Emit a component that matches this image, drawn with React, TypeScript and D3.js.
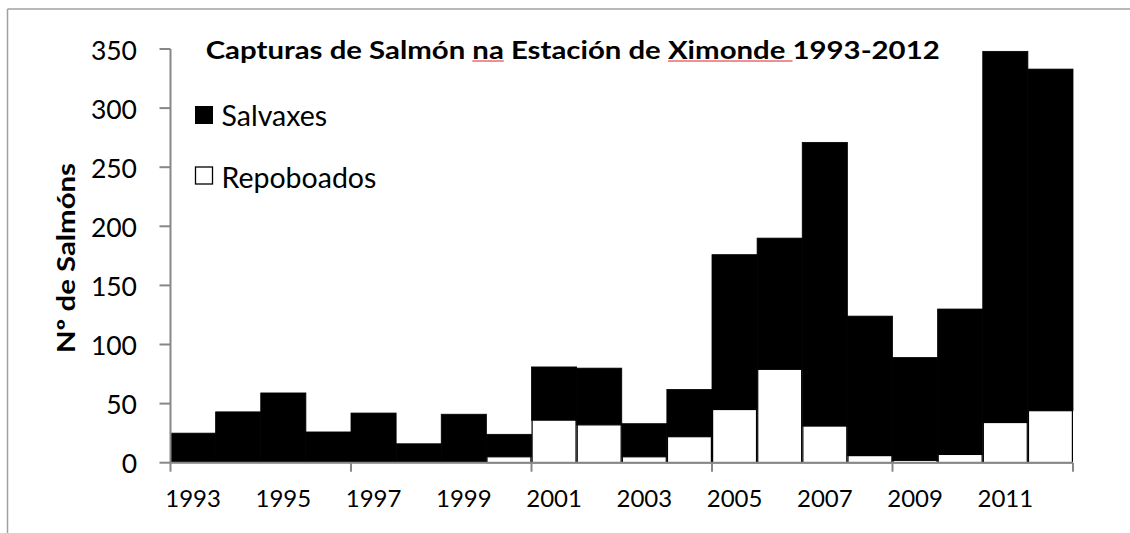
import React, { useEffect, useRef, useState } from "react";
import * as d3 from "d3";

// capturas anuais
const years = [
  "1993", "1994", "1995", "1996", "1997", "1998", "1999", "2000", "2001", "2002",
  "2003", "2004", "2005", "2006", "2007", "2008", "2009", "2010", "2011", "2012",
];
const repoboados = [0, 0, 0, 0, 0, 0, 0, 5, 36, 32, 5, 22, 45, 79, 31, 6, 2, 7, 34, 44];
const salvaxes = [25, 43, 59, 26, 42, 16, 41, 19, 45, 48, 28, 40, 131, 111, 240, 118, 87, 123, 314, 289];

const yTicks = [0, 50, 100, 150, 200, 250, 300, 350];
const xLabels = ["1993", "1995", "1997", "1999", "2001", "2003", "2005", "2007", "2009", "2011"];
const xTickYears = ["1993", "1997", "2001", "2005", "2009"];

const title = "Capturas de Salmón na Estación de Ximonde 1993-2012";
const yTitle = "Nº de Salmóns";
const spellSpans = [[19, 20], [34, 41]]; // "na", "Ximonde "

const font = "Lato, 'Open Sans', sans-serif";
const axisColor = "#878787";

export default function App() {
  const titleRef = useRef<SVGTextElement>(null);
  const [marks, setMarks] = useState<{ x1: number; x2: number }[]>([]);

  const x = d3.scaleBand<string>().domain(years).range([170.5, 1073]).padding(0);
  const y = d3.scaleLinear().domain([0, 350]).range([462.7, 49]);

  const rows = years.map((yr, i) => ({ year: yr, Repoboados: repoboados[i], Salvaxes: salvaxes[i] }));
  const stacked = d3.stack<any>().keys(["Repoboados", "Salvaxes"])(rows);

  useEffect(() => {
    const t = titleRef.current;
    if (!t) return;
    setMarks(
      spellSpans.map(([a, b]) => ({
        x1: t.getStartPositionOfChar(a).x,
        x2: t.getEndPositionOfChar(b).x,
      }))
    );
  }, []);

  const x0 = x.range()[0];
  const x1 = x.range()[1];
  const y0 = y(0);

  return (
    <svg width={1130} height={533} style={{ position: "absolute", left: 0, top: 0, background: "#fff" }}>
      {/* chart frame (only left and top edges fall inside the picture) */}
      <line x1={7.5} y1={9} x2={7.5} y2={533} stroke="#a0a0a0" strokeWidth={1.5} />
      <line x1={7.5} y1={9} x2={1130} y2={9} stroke="#a0a0a0" strokeWidth={1.5} />

      {/* Salvaxes (black, top of stack) */}
      <g>
        {stacked[1].map((d, i) => (
          <rect
            key={"s" + years[i]}
            x={x(years[i])}
            y={y(d[1])}
            width={x.bandwidth()}
            height={y(d[0]) - y(d[1])}
            fill="#000"
            stroke="#000"
            strokeWidth={0.8}
          />
        ))}
      </g>
      {/* Repoboados (white, bottom of stack) */}
      <g>
        {stacked[0].map((d, i) =>
          d[1] > 0 ? (
            <rect
              key={"r" + years[i]}
              x={(x(years[i]) as number) + 0.6}
              y={y(d[1])}
              width={x.bandwidth() - 1.2}
              height={y(d[0]) - y(d[1])}
              fill="#fff"
              stroke="#000"
              strokeWidth={1.2}
            />
          ) : null
        )}
      </g>

      {/* y axis */}
      <line x1={x0} y1={y(350)} x2={x0} y2={y0} stroke={axisColor} strokeWidth={2} />
      {yTicks.map((t) => (
        <g key={"yt" + t}>
          <line x1={159.5} x2={x0} y1={y(t)} y2={y(t)} stroke={axisColor} strokeWidth={2} />
          <text
            x={137}
            y={y(t)}
            dy="0.4em"
            textAnchor="end"
            fontFamily={font}
            fontSize={26.5}
            fill="#000"
          >
            {t}
          </text>
        </g>
      ))}

      {/* x axis */}
      <line x1={x0} y1={y0} x2={x1} y2={y0} stroke={axisColor} strokeWidth={2} />
      {xTickYears.map((yr) => (
        <line key={"xt" + yr} x1={x(yr)} x2={x(yr)} y1={y0} y2={y0 + 9} stroke={axisColor} strokeWidth={2} />
      ))}
      <line x1={x1} x2={x1} y1={y0} y2={y0 + 9} stroke={axisColor} strokeWidth={2} />
      {xLabels.map((yr) => (
        <text
          key={"xl" + yr}
          x={(x(yr) as number) + x.bandwidth() / 2}
          y={y0 + 44}
          textAnchor="middle"
          fontFamily={font}
          fontSize={24}
          fill="#000"
        >
          {yr}
        </text>
      ))}

      {/* y axis title */}
      <text
        transform="translate(75,258) rotate(-90)"
        textAnchor="middle"
        fontFamily={font}
        fontWeight="bold"
        fontSize={25}
        textLength={190}
        lengthAdjust="spacingAndGlyphs"
        fill="#000"
      >
        {yTitle}
      </text>

      {/* title */}
      <text
        ref={titleRef}
        x={205.7}
        y={58.5}
        fontFamily={font}
        fontWeight="bold"
        fontSize={25}
        textLength={734}
        lengthAdjust="spacingAndGlyphs"
        fill="#000"
      >
        {title}
      </text>
      {marks.map((m, i) => (
        <line key={"sp" + i} x1={m.x1} x2={m.x2} y1={61} y2={61} stroke="#e02020" strokeWidth={1} />
      ))}

      {/* legend */}
      <rect x={195} y={106} width={18} height={18} fill="#000" />
      <text x={221.5} y={126} fontFamily={font} fontSize={28.5} fill="#000">Salvaxes</text>
      <rect x={195.5} y={167} width={17} height={17} fill="#fff" stroke="#000" strokeWidth={1.3} />
      <text x={221.5} y={188.3} fontFamily={font} fontSize={28.5} fill="#000">Repoboados</text>
    </svg>
  );
}
